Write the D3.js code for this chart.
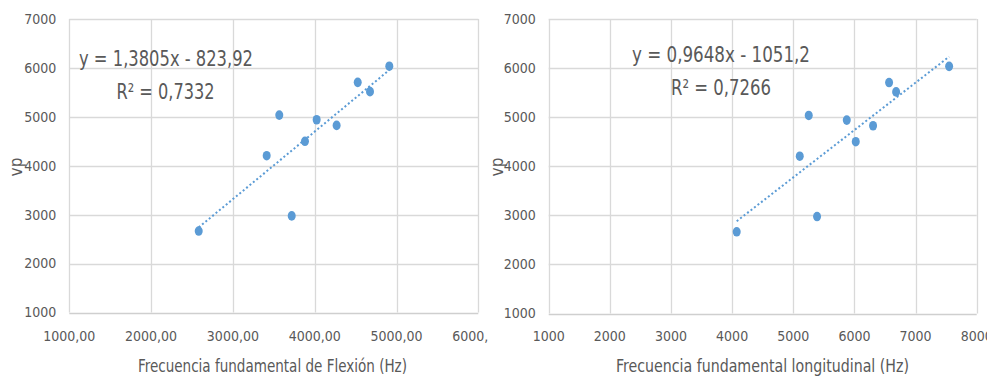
<!DOCTYPE html>
<html>
<head>
<meta charset="utf-8">
<script src="https://cdn.jsdelivr.net/npm/d3@7"></script>
<style>
  body { margin: 0; background: #fff; }
  text { font-family: "Liberation Sans Narrow", "DejaVu Sans Condensed", sans-serif; fill: #595959; }
</style>
</head>
<body>
<script>
// vp (m/s) de cada probeta
var vp = [2665, 4205, 5035, 2975, 4500, 4940, 4825, 5705, 5515, 6035];
// frecuencias (Hz)
var freqFlexion = [2582, 3413, 3567, 3719, 3881, 4024, 4268, 4526, 4676, 4912];
var freqLongitudinal = [4075, 5106, 5253, 5389, 6022, 5875, 6305, 6567, 6682, 7549];

var ticksY = [1000, 2000, 3000, 4000, 5000, 6000, 7000];
var ticksFlexion = [1000, 2000, 3000, 4000, 5000, 6000];
var ticksLongitudinal = [1000, 2000, 3000, 4000, 5000, 6000, 7000, 8000];

// y = a*x + b (linea de tendencia de Excel)
var tendFlexion = [1.3805, -823.92];
var tendLongitudinal = [0.9648, -1051.2];
var ecuaciones = [["y = 1,3805x - 823,92", "R\u00b2 = 0,7332"],
                  ["y = 0,9648x - 1051,2", "R\u00b2 = 0,7266"]];
var titulosX = ["Frecuencia fundamental  de Flexi\u00f3n (Hz)",
                "Frecuencia fundamental longitudinal (Hz)"];

var azul = "#5b9bd5";
var rejilla = "#d9d9d9";

var svg = d3.select("body").append("svg")
            .attr("width", 987)
            .attr("height", 379);

function grafico(cfg) {
  var area = svg.append("svg")
                .attr("x", cfg.ox)
                .attr("y", 0)
                .attr("width", cfg.w)
                .attr("height", 379);

  var x = d3.scaleLinear().domain(cfg.domX).range(cfg.rangoX);
  var y = d3.scaleLinear().domain([1000, 7000]).range(cfg.rangoY);

  // rejilla
  area.append("g").selectAll("line")
      .data(cfg.ticksX).enter().append("line")
      .attr("x1", function(d) { return Math.round(x(d)) + 0.5; })
      .attr("x2", function(d) { return Math.round(x(d)) + 0.5; })
      .attr("y1", y(7000)).attr("y2", y(1000))
      .attr("stroke", rejilla).attr("stroke-width", 1.3);
  area.append("g").selectAll("line")
      .data(ticksY).enter().append("line")
      .attr("y1", function(d) { return Math.round(y(d)) + 0.5; })
      .attr("y2", function(d) { return Math.round(y(d)) + 0.5; })
      .attr("x1", x(cfg.domX[0])).attr("x2", x(cfg.domX[1]))
      .attr("stroke", function(d) { return d === 1000 ? "#cfcfcf" : rejilla; })
      .attr("stroke-width", 1.3);

  // etiquetas de ejes
  area.append("g").selectAll("text")
      .data(ticksY).enter().append("text")
      .attr("x", cfg.rangoX[0] - 13)
      .attr("y", function(d) { return y(d); })
      .attr("dy", "0.35em")
      .attr("text-anchor", "end")
      .attr("font-size", 14)
      .text(function(d) { return d; });
  area.append("g").selectAll("text")
      .data(cfg.ticksX).enter().append("text")
      .attr("x", function(d) { return x(d); })
      .attr("y", 336)
      .attr("dy", "0.35em")
      .attr("text-anchor", "middle")
      .attr("font-size", 14)
      .text(cfg.formato);

  area.append("text")
      .attr("transform", "translate(" + cfg.xVp + ",167) rotate(-90)")
      .attr("text-anchor", "middle")
      .attr("dy", "0.35em")
      .attr("font-size", 17)
      .text("vp");

  area.append("text")
      .attr("x", cfg.tituloX[0])
      .attr("y", 372)
      .attr("font-size", 18)
      .attr("textLength", cfg.tituloX[1])
      .attr("lengthAdjust", "spacingAndGlyphs")
      .text(cfg.titulo);

  // linea de tendencia
  var xs = d3.extent(cfg.freq);
  area.append("line")
      .attr("x1", x(xs[0])).attr("y1", y(cfg.tend[0] * xs[0] + cfg.tend[1]))
      .attr("x2", x(xs[1])).attr("y2", y(cfg.tend[0] * xs[1] + cfg.tend[1]))
      .attr("stroke", azul)
      .attr("stroke-width", 2)
      .attr("stroke-dasharray", "2,2.4");

  // puntos
  area.append("g").selectAll("ellipse")
      .data(cfg.freq).enter().append("ellipse")
      .attr("cx", function(d) { return x(d); })
      .attr("cy", function(d, i) { return y(vp[i]); })
      .attr("rx", 4)
      .attr("ry", 4.8)
      .attr("fill", azul);

  // ecuacion
  cfg.ecuacion.forEach(function(t, i) {
    area.append("text")
        .attr("x", cfg.posEq[i][0])
        .attr("y", cfg.posEq[i][1])
        .attr("font-size", 22)
        .attr("textLength", cfg.posEq[i][2])
        .attr("lengthAdjust", "spacingAndGlyphs")
        .text(t);
  });
}

grafico({
  ox: 0, w: 488,
  domX: [1000, 6000], rangoX: [69.3, 478.3], rangoY: [312.5, 19],
  ticksX: ticksFlexion,
  formato: function(d) { return d + ",00"; },
  freq: freqFlexion, tend: tendFlexion,
  ecuacion: ecuaciones[0],
  posEq: [[79, 65.5, 174], [116.5, 98.5, 98]],
  xVp: 16.5,
  titulo: titulosX[0], tituloX: [138, 269]
});

grafico({
  ox: 490, w: 497,
  domX: [1000, 8000], rangoX: [58.7, 486.7], rangoY: [313.5, 19],
  ticksX: ticksLongitudinal,
  formato: function(d) { return d; },
  freq: freqLongitudinal, tend: tendLongitudinal,
  ecuacion: ecuaciones[1],
  posEq: [[142, 62, 178], [181, 95, 100]],
  xVp: 7,
  titulo: titulosX[1], tituloX: [126, 293]
});
</script>
</body>
</html>
